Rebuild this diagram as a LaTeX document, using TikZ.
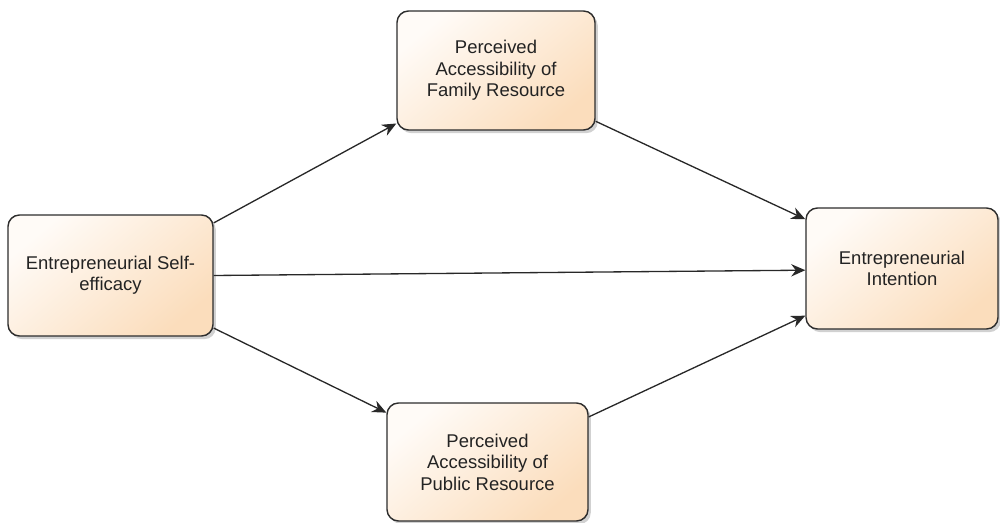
\documentclass[tikz,border=0pt]{standalone}
\usepackage{fontspec}
\setmainfont{Liberation Sans}
\usetikzlibrary{arrows.meta,shadows}

\definecolor{boxpeach}{RGB}{251,221,188}
\definecolor{boxlight}{RGB}{255,251,247}
\definecolor{boxline}{RGB}{45,45,45}
\definecolor{textgray}{RGB}{35,35,35}
\definecolor{linkgray}{RGB}{40,40,40}

\tikzset{
  concept/.style={
    draw=boxline, line width=0.8pt, rounded corners=6.5pt,
    top color=boxlight, bottom color=boxpeach, shading angle=40,
    drop shadow={shadow xshift=1.6pt, shadow yshift=-1.8pt, opacity=0.18, fill=black},
    align=center, text=textgray, inner sep=0pt,
    font=\fontsize{10.5}{12.2}\selectfont
  },
  link/.style={
    draw=linkgray, line width=0.75pt,
    -{Stealth[length=8pt,width=7pt]}
  }
}

\begin{document}
\begin{tikzpicture}[x=0.02cm, y=-0.02cm]
  \useasboundingbox (0,0) rectangle (1000,523);

  % the four constructs of the model
  \node[concept, minimum width=4.10cm, minimum height=2.42cm] (self) at (110.5,275.5)
    {Entrepreneurial Self-\\efficacy};
  \node[concept, minimum width=3.96cm, minimum height=2.38cm] (family) at (496,70.5)
    {Perceived\\Accessibility of\\Family Resource};
  \node[concept, minimum width=4.02cm, minimum height=2.36cm] (public) at (487.5,462)
    {Perceived\\Accessibility of\\Public Resource};
  \node[concept, minimum width=3.84cm, minimum height=2.42cm] (intent) at (902,268.5)
    {Entrepreneurial\\Intention};

  % hypothesised paths
  \draw[link] (self.27.6) -- (family.208.8);
  \draw[link] (family.333.4) -- (intent.153.2);
  \draw[link] (self.0.8) -- (intent.181.5);
  \draw[link] (self.333.8) -- (public.154);
  \draw[link] (public.24.1) -- (intent.206.8);
\end{tikzpicture}
\end{document}
